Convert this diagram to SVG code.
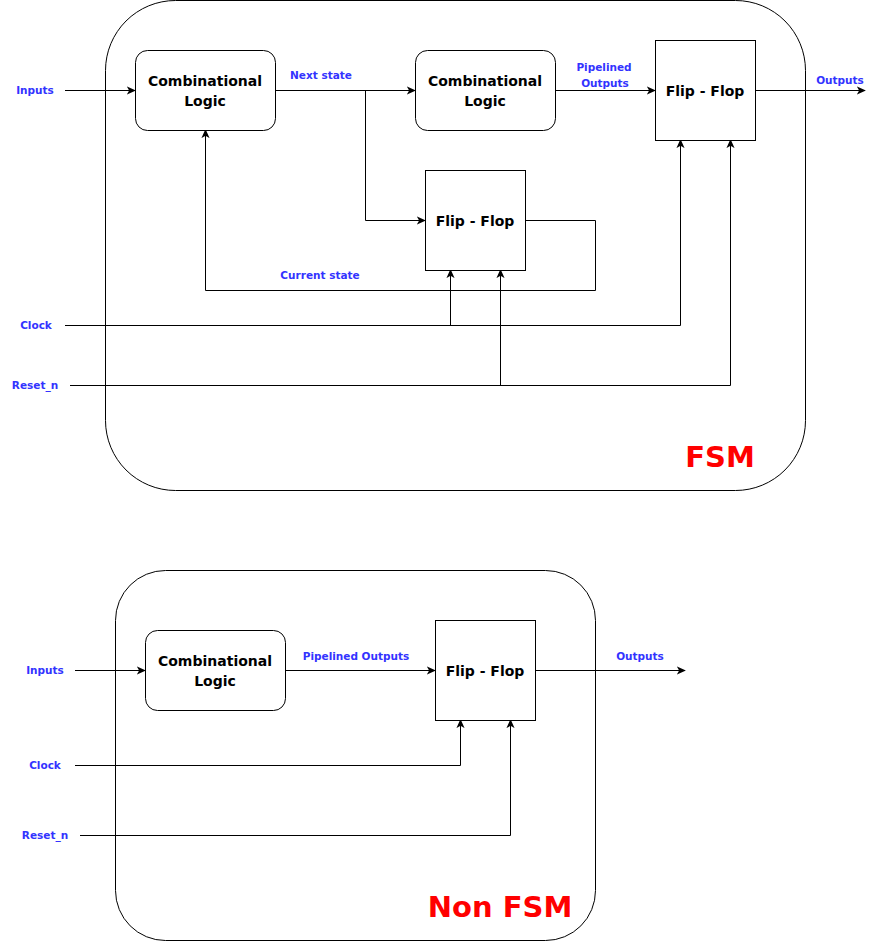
<svg xmlns="http://www.w3.org/2000/svg" width="890" height="942" viewBox="0 0 890 942">
<defs>
<marker id="arr" viewBox="0 0 10 10" refX="9" refY="5" markerWidth="9" markerHeight="9" markerUnits="userSpaceOnUse" orient="auto">
<path d="M0,0.5 L10,5 L0,9.5 L2.5,5 Z" fill="#000"/>
</marker>
<style>
.box{fill:#fff;stroke:#000;stroke-width:1}
.cont{fill:#fff;stroke:#000;stroke-width:1}
.w{fill:none;stroke:#000;stroke-width:1}
.a{marker-end:url(#arr)}
.nt{font-family:"DejaVu Sans",Verdana,sans-serif;font-size:14px;font-weight:bold;fill:#000;text-anchor:middle}
.lb{font-family:"DejaVu Sans",Verdana,sans-serif;font-size:10.5px;font-weight:bold;fill:#3333FF;text-anchor:middle}
.big{font-family:"DejaVu Sans",Verdana,sans-serif;font-size:29px;font-weight:bold;fill:#FF0000;text-anchor:middle}
</style>
</defs>
<rect width="890" height="942" fill="#fff"/>
<g id="fsm-container">
<rect class="cont" x="105.5" y="0.5" width="700" height="490" rx="70" ry="70"/>
<text class="big" x="720" y="467">FSM</text>
</g>
<g id="nonfsm-container">
<rect class="cont" x="115.5" y="570.5" width="480" height="370" rx="50" ry="50"/>
<text class="big" x="500" y="917">Non FSM</text>
</g>
<g id="connectors">
<path class="w a" d="M65,90.5 H135"/>
<path class="w a" d="M275,90.5 H415"/>
<path class="w a" d="M365.5,90.5 V220.5 H425"/>
<path class="w a" d="M555,90.5 H655"/>
<path class="w a" d="M755,90.5 H865"/>
<path class="w a" d="M525,220.5 H595.5 V290.5 H205.5 V130"/>
<path class="w a" d="M65,325.5 H680.5 V140"/>
<path class="w a" d="M450.5,325.5 V270"/>
<path class="w a" d="M70,385.5 H730.5 V140"/>
<path class="w a" d="M500.5,385.5 V270"/>
<path class="w a" d="M75,670.5 H145"/>
<path class="w a" d="M285,670.5 H435"/>
<path class="w a" d="M535,670.5 H685"/>
<path class="w a" d="M75,765.5 H460.5 V720"/>
<path class="w a" d="M80,835.5 H510.5 V720"/>
</g>
<g id="labels">
<text class="lb" x="35" y="94">Inputs</text>
<text class="lb" x="321" y="79">Next state</text>
<text class="lb" x="604" y="71">Pipelined</text>
<text class="lb" x="605" y="87">Outputs</text>
<text class="lb" x="840" y="84">Outputs</text>
<text class="lb" x="320" y="279">Current state</text>
<text class="lb" x="36" y="329">Clock</text>
<text class="lb" x="35" y="389">Reset_n</text>
<text class="lb" x="45" y="674">Inputs</text>
<text class="lb" x="356" y="660">Pipelined Outputs</text>
<text class="lb" x="640" y="660">Outputs</text>
<text class="lb" x="45" y="769">Clock</text>
<text class="lb" x="45" y="839">Reset_n</text>
</g>
<g id="comb1">
<rect class="box" x="135.5" y="50.5" width="140" height="80" rx="12" ry="12"/>
<text class="nt" x="205" y="86">Combinational</text>
<text class="nt" x="205" y="106">Logic</text>
</g>
<g id="comb2">
<rect class="box" x="415.5" y="50.5" width="140" height="80" rx="12" ry="12"/>
<text class="nt" x="485" y="86">Combinational</text>
<text class="nt" x="485" y="106">Logic</text>
</g>
<g id="ff-out">
<rect class="box" x="655.5" y="40.5" width="100" height="100"/>
<text class="nt" x="705" y="96">Flip - Flop</text>
</g>
<g id="ff-state">
<rect class="box" x="425.5" y="170.5" width="100" height="100"/>
<text class="nt" x="475" y="226">Flip - Flop</text>
</g>
<g id="comb3">
<rect class="box" x="145.5" y="630.5" width="140" height="80" rx="12" ry="12"/>
<text class="nt" x="215" y="666">Combinational</text>
<text class="nt" x="215" y="686">Logic</text>
</g>
<g id="ff3">
<rect class="box" x="435.5" y="620.5" width="100" height="100"/>
<text class="nt" x="485" y="676">Flip - Flop</text>
</g>
</svg>
